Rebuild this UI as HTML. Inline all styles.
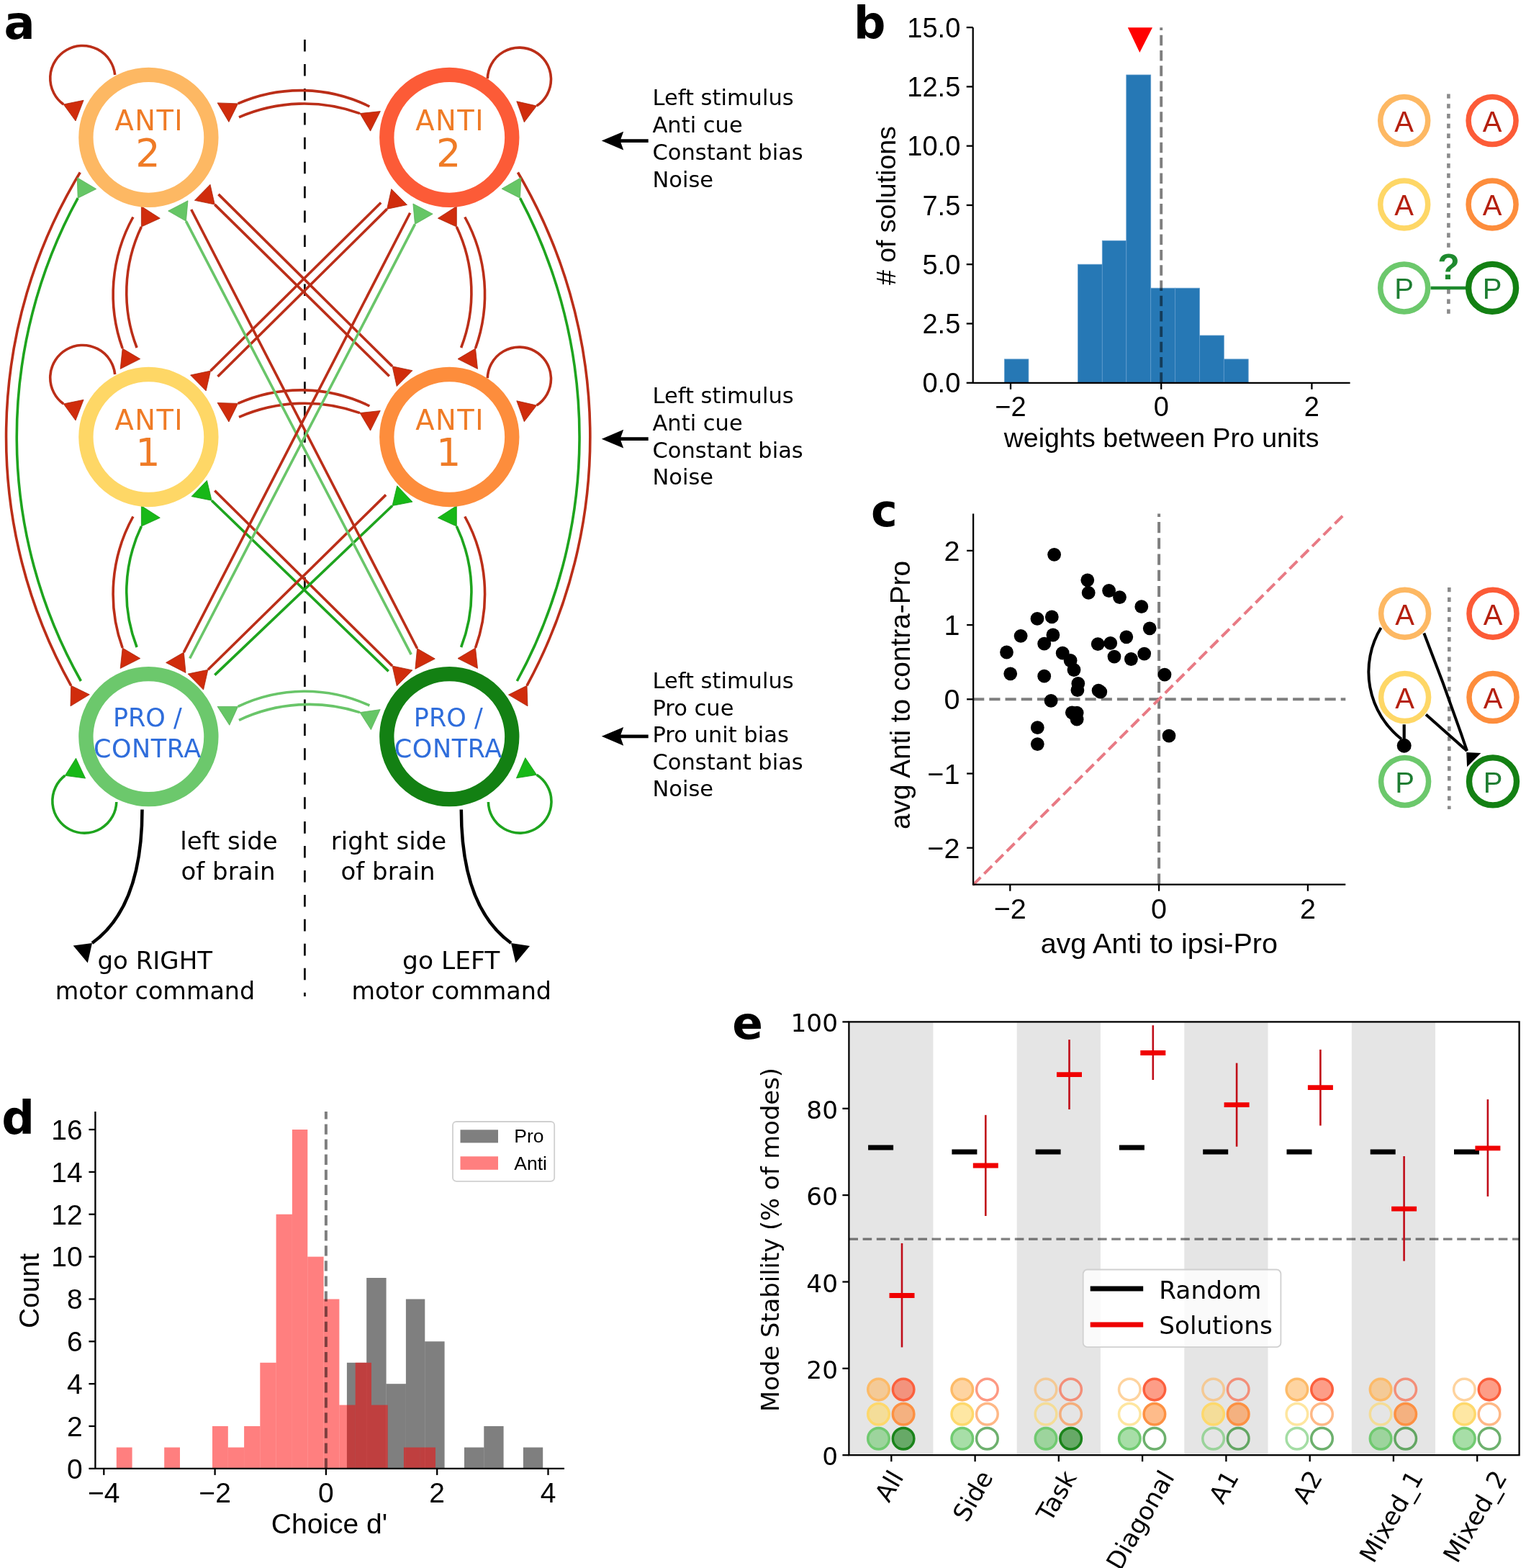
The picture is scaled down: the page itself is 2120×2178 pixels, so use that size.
<!DOCTYPE html>
<html><head><meta charset="utf-8"><title>Figure</title>
<style>html,body{margin:0;padding:0;background:#fff;} svg{display:block;}</style></head>
<body><svg xmlns="http://www.w3.org/2000/svg" width="2120" height="2178" viewBox="0 0 2120 2178">
<rect x="0" y="0" width="2120" height="2178" fill="#ffffff"/>
<line x1="423.4" y1="55" x2="423.4" y2="1384" stroke="#000" stroke-width="2.7" stroke-dasharray="16.6 17.34"/>
<path d="M513.4,148.0 A215.9,215.9 0 0 0 330.6,143.9" fill="none" stroke="#bb2e18" stroke-width="3.6"/>
<polygon points="330.6,143.9 302.1,142.9 317.9,169.4" fill="#d02c0c" stroke="#a8250b" stroke-width="0.8" stroke-linejoin="miter"/>
<path d="M332.0,162.8 A227.2,227.2 0 0 1 500.0,157.6" fill="none" stroke="#bb2e18" stroke-width="3.6"/>
<polygon points="500.0,157.6 514.6,182.1 528.4,154.6" fill="#d02c0c" stroke="#a8250b" stroke-width="0.8" stroke-linejoin="miter"/>
<path d="M513.4,564.0 A215.7,215.7 0 0 0 330.6,560.4" fill="none" stroke="#bb2e18" stroke-width="3.6"/>
<polygon points="330.6,560.4 302.1,559.5 317.9,586.0" fill="#d02c0c" stroke="#a8250b" stroke-width="0.8" stroke-linejoin="miter"/>
<path d="M332.0,579.3 A227.3,227.3 0 0 1 500.0,573.6" fill="none" stroke="#bb2e18" stroke-width="3.6"/>
<polygon points="500.0,573.6 514.6,598.1 528.3,570.5" fill="#d02c0c" stroke="#a8250b" stroke-width="0.8" stroke-linejoin="miter"/>
<path d="M513.4,980.0 A214.0,214.0 0 0 0 330.6,981.4" fill="none" stroke="#69c569" stroke-width="3.6"/>
<polygon points="330.6,981.4 302.1,981.4 318.8,1007.3" fill="#66c666" stroke="#55b055" stroke-width="0.8" stroke-linejoin="miter"/>
<path d="M332.0,1000.3 A228.0,228.0 0 0 1 500.0,989.6" fill="none" stroke="#69c569" stroke-width="3.6"/>
<polygon points="500.0,989.6 515.4,1013.6 528.2,985.6" fill="#66c666" stroke="#55b055" stroke-width="0.8" stroke-linejoin="miter"/>
<path d="M184.9,301.5 A221.9,221.9 0 0 0 170.2,484.0" fill="none" stroke="#bb2e18" stroke-width="3.6"/>
<polygon points="170.2,484.0 167.2,512.4 194.7,498.6" fill="#d02c0c" stroke="#a8250b" stroke-width="0.8" stroke-linejoin="miter"/>
<path d="M190.1,483.0 A212.0,212.0 0 0 1 196.4,315.1" fill="none" stroke="#bb2e18" stroke-width="3.6"/>
<polygon points="196.4,315.1 222.3,303.2 196.4,286.6" fill="#d02c0c" stroke="#a8250b" stroke-width="0.8" stroke-linejoin="miter"/>
<path d="M645.8,301.5 A221.9,221.9 0 0 1 660.5,484.0" fill="none" stroke="#bb2e18" stroke-width="3.6"/>
<polygon points="660.5,484.0 636.0,498.6 663.5,512.4" fill="#d02c0c" stroke="#a8250b" stroke-width="0.8" stroke-linejoin="miter"/>
<path d="M640.6,483.0 A212.0,212.0 0 0 0 634.3,315.1" fill="none" stroke="#bb2e18" stroke-width="3.6"/>
<polygon points="634.3,315.1 634.3,286.6 608.4,303.2" fill="#d02c0c" stroke="#a8250b" stroke-width="0.8" stroke-linejoin="miter"/>
<path d="M184.9,717.5 A221.9,221.9 0 0 0 170.2,900.0" fill="none" stroke="#bb2e18" stroke-width="3.6"/>
<polygon points="170.2,900.0 167.2,928.4 194.7,914.6" fill="#d02c0c" stroke="#a8250b" stroke-width="0.8" stroke-linejoin="miter"/>
<path d="M190.1,899.0 A212.0,212.0 0 0 1 196.4,731.1" fill="none" stroke="#1ea41e" stroke-width="3.6"/>
<polygon points="196.4,731.1 222.3,719.2 196.4,702.6" fill="#17b817" stroke="#129812" stroke-width="0.8" stroke-linejoin="miter"/>
<path d="M645.8,717.5 A221.9,221.9 0 0 1 660.5,900.0" fill="none" stroke="#bb2e18" stroke-width="3.6"/>
<polygon points="660.5,900.0 636.0,914.6 663.5,928.4" fill="#d02c0c" stroke="#a8250b" stroke-width="0.8" stroke-linejoin="miter"/>
<path d="M640.6,899.0 A212.0,212.0 0 0 0 634.3,731.1" fill="none" stroke="#1ea41e" stroke-width="3.6"/>
<polygon points="634.3,731.1 634.3,702.6 608.4,719.2" fill="#17b817" stroke="#129812" stroke-width="0.8" stroke-linejoin="miter"/>
<path d="M111.3,239.5 A707.6,707.6 0 0 0 98.7,952.3" fill="none" stroke="#bb2e18" stroke-width="3.6"/>
<polygon points="98.7,952.3 98.0,980.8 124.3,964.8" fill="#d02c0c" stroke="#a8250b" stroke-width="0.8" stroke-linejoin="miter"/>
<path d="M112.4,946.0 A689.9,689.9 0 0 1 108.2,275.2" fill="none" stroke="#1ea41e" stroke-width="3.6"/>
<polygon points="108.2,275.2 133.7,262.5 107.3,246.7" fill="#66c666" stroke="#55b055" stroke-width="0.8" stroke-linejoin="miter"/>
<path d="M719.4,239.5 A722.6,722.6 0 0 1 732.0,952.3" fill="none" stroke="#bb2e18" stroke-width="3.6"/>
<polygon points="732.0,952.3 706.5,965.1 733.0,980.8" fill="#d02c0c" stroke="#a8250b" stroke-width="0.8" stroke-linejoin="miter"/>
<path d="M718.3,946.0 A707.0,707.0 0 0 0 722.5,275.2" fill="none" stroke="#1ea41e" stroke-width="3.6"/>
<polygon points="722.5,275.2 723.8,246.7 697.1,262.2" fill="#66c666" stroke="#55b055" stroke-width="0.8" stroke-linejoin="miter"/>
<path d="M303.5,269.9 L545.0,508.8" fill="none" stroke="#bb2e18" stroke-width="3.6"/>
<polygon points="545.0,508.8 551.2,536.6 572.9,514.7" fill="#d02c0c" stroke="#a8250b" stroke-width="0.8" stroke-linejoin="miter"/>
<path d="M540.8,522.5 L298.3,284.1" fill="none" stroke="#bb2e18" stroke-width="3.6"/>
<polygon points="298.3,284.1 292.0,256.3 270.4,278.3" fill="#d02c0c" stroke="#a8250b" stroke-width="0.8" stroke-linejoin="miter"/>
<path d="M529.2,281.5 L292.5,515.1" fill="none" stroke="#bb2e18" stroke-width="3.6"/>
<polygon points="292.5,515.1 264.6,521.0 286.2,542.9" fill="#d02c0c" stroke="#a8250b" stroke-width="0.8" stroke-linejoin="miter"/>
<path d="M302.5,523.0 L537.6,290.4" fill="none" stroke="#bb2e18" stroke-width="3.6"/>
<polygon points="537.6,290.4 565.5,284.5 543.8,262.6" fill="#d02c0c" stroke="#a8250b" stroke-width="0.8" stroke-linejoin="miter"/>
<path d="M298.3,681.5 L545.0,925.0" fill="none" stroke="#bb2e18" stroke-width="3.6"/>
<polygon points="545.0,925.0 551.3,952.8 572.9,930.9" fill="#d02c0c" stroke="#a8250b" stroke-width="0.8" stroke-linejoin="miter"/>
<path d="M539.7,932.4 L294.1,695.2" fill="none" stroke="#1ea41e" stroke-width="3.6"/>
<polygon points="294.1,695.2 287.5,667.4 266.1,689.6" fill="#17b817" stroke="#129812" stroke-width="0.8" stroke-linejoin="miter"/>
<path d="M536.1,687.4 L288.9,930.3" fill="none" stroke="#bb2e18" stroke-width="3.6"/>
<polygon points="288.9,930.3 261.0,936.1 282.6,958.1" fill="#d02c0c" stroke="#a8250b" stroke-width="0.8" stroke-linejoin="miter"/>
<path d="M298.3,937.6 L545.0,702.5" fill="none" stroke="#1ea41e" stroke-width="3.6"/>
<polygon points="545.0,702.5 573.0,697.1 551.7,674.8" fill="#17b817" stroke="#129812" stroke-width="0.8" stroke-linejoin="miter"/>
<path d="M265.7,291.0 L579.6,900.8" fill="none" stroke="#bb2e18" stroke-width="3.6"/>
<polygon points="579.6,900.8 576.9,929.2 604.3,915.1" fill="#d02c0c" stroke="#a8250b" stroke-width="0.8" stroke-linejoin="miter"/>
<path d="M571.2,909.2 L258.4,307.2" fill="none" stroke="#69c569" stroke-width="3.6"/>
<polygon points="258.4,307.2 261.0,278.8 233.7,293.0" fill="#66c666" stroke="#55b055" stroke-width="0.8" stroke-linejoin="miter"/>
<path d="M569.7,295.7 L255.3,906.1" fill="none" stroke="#bb2e18" stroke-width="3.6"/>
<polygon points="255.3,906.1 230.6,920.4 258.0,934.5" fill="#d02c0c" stroke="#a8250b" stroke-width="0.8" stroke-linejoin="miter"/>
<path d="M263.7,914.5 L576.5,311.4" fill="none" stroke="#69c569" stroke-width="3.6"/>
<polygon points="576.5,311.4 601.2,297.2 573.9,283.0" fill="#66c666" stroke="#55b055" stroke-width="0.8" stroke-linejoin="miter"/>
<path d="M159.7,104.0 A45.1,45.1 0 1 0 88.2,145.0" fill="none" stroke="#bb2e18" stroke-width="3.6"/>
<polygon points="88.2,145.0 105.0,168.0 116.1,139.3" fill="#d02c0c" stroke="#a8250b" stroke-width="0.8"/>
<path d="M677.3,109.2 A44.1,44.1 0 1 1 745.6,147.1" fill="none" stroke="#bb2e18" stroke-width="3.6"/>
<polygon points="745.6,147.1 717.8,140.8 728.3,169.7" fill="#d02c0c" stroke="#a8250b" stroke-width="0.8"/>
<path d="M159.7,520.0 A45.1,45.1 0 1 0 88.2,561.0" fill="none" stroke="#bb2e18" stroke-width="3.6"/>
<polygon points="88.2,561.0 105.0,584.0 116.1,555.3" fill="#d02c0c" stroke="#a8250b" stroke-width="0.8"/>
<path d="M677.3,525.2 A44.1,44.1 0 1 1 745.6,563.1" fill="none" stroke="#bb2e18" stroke-width="3.6"/>
<polygon points="745.6,563.1 717.8,556.8 728.3,585.7" fill="#d02c0c" stroke="#a8250b" stroke-width="0.8"/>
<path d="M161.8,1114.0 A44.5,44.5 0 1 1 90.3,1077.3" fill="none" stroke="#1ea41e" stroke-width="3.6"/>
<polygon points="90.3,1077.3 118.6,1081.1 105.5,1053.2" fill="#17b817" stroke="#129812" stroke-width="0.8"/>
<path d="M678.4,1114.0 A43.8,43.8 0 1 0 745.6,1076.3" fill="none" stroke="#1ea41e" stroke-width="3.6"/>
<polygon points="745.6,1076.3 729.8,1052.6 717.4,1080.8" fill="#17b817" stroke="#129812" stroke-width="0.8"/>
<circle cx="206.4" cy="190.9" r="87" fill="#fff" stroke="#fdb863" stroke-width="20.3"/>
<circle cx="624.3" cy="190.9" r="87" fill="#fff" stroke="#fc5b37" stroke-width="20.3"/>
<circle cx="206.4" cy="607.0" r="87" fill="#fff" stroke="#fed766" stroke-width="20.3"/>
<circle cx="624.3" cy="607.0" r="87" fill="#fff" stroke="#fd8d3c" stroke-width="20.3"/>
<circle cx="206.4" cy="1023.2" r="87" fill="#fff" stroke="#6cc86c" stroke-width="20.3"/>
<circle cx="624.3" cy="1023.2" r="87" fill="#fff" stroke="#138013" stroke-width="20.3"/>
<text x="207.3" y="180.6" font-family="'DejaVu Sans', 'Liberation Sans', sans-serif" font-size="38.4" letter-spacing="1.5" fill="#ef7b26" text-anchor="middle">ANTI</text>
<text x="205.4" y="230.9" font-family="'DejaVu Sans', 'Liberation Sans', sans-serif" font-size="54" fill="#ef7b26" text-anchor="middle">2</text>
<text x="625.2" y="180.6" font-family="'DejaVu Sans', 'Liberation Sans', sans-serif" font-size="38.4" letter-spacing="1.5" fill="#ef7b26" text-anchor="middle">ANTI</text>
<text x="623.3" y="230.9" font-family="'DejaVu Sans', 'Liberation Sans', sans-serif" font-size="54" fill="#ef7b26" text-anchor="middle">2</text>
<text x="207.3" y="596.7" font-family="'DejaVu Sans', 'Liberation Sans', sans-serif" font-size="38.4" letter-spacing="1.5" fill="#ef7b26" text-anchor="middle">ANTI</text>
<text x="205.4" y="647.0" font-family="'DejaVu Sans', 'Liberation Sans', sans-serif" font-size="54" fill="#ef7b26" text-anchor="middle">1</text>
<text x="625.2" y="596.7" font-family="'DejaVu Sans', 'Liberation Sans', sans-serif" font-size="38.4" letter-spacing="1.5" fill="#ef7b26" text-anchor="middle">ANTI</text>
<text x="623.3" y="647.0" font-family="'DejaVu Sans', 'Liberation Sans', sans-serif" font-size="54" fill="#ef7b26" text-anchor="middle">1</text>
<text x="204.9" y="1009.0" font-family="'DejaVu Sans', 'Liberation Sans', sans-serif" font-size="35" fill="#2f6ddb" text-anchor="middle">PRO /</text>
<text x="204.9" y="1051.5" font-family="'DejaVu Sans', 'Liberation Sans', sans-serif" font-size="35" letter-spacing="0.6" fill="#2f6ddb" text-anchor="middle">CONTRA</text>
<text x="622.8" y="1009.0" font-family="'DejaVu Sans', 'Liberation Sans', sans-serif" font-size="35" fill="#2f6ddb" text-anchor="middle">PRO /</text>
<text x="622.8" y="1051.5" font-family="'DejaVu Sans', 'Liberation Sans', sans-serif" font-size="35" letter-spacing="0.6" fill="#2f6ddb" text-anchor="middle">CONTRA</text>
<path d="M197.5,1124.4 Q197.5,1260 128,1310" fill="none" stroke="#000" stroke-width="4.5"/>
<polygon points="128,1310 101.7,1313.4 121.8,1337.4" fill="#000"/>
<path d="M640.8,1124.4 Q640.8,1260 710,1310" fill="none" stroke="#000" stroke-width="4.5"/>
<polygon points="710,1310 736,1314 716.4,1337.4" fill="#000"/>
<text x="318.0" y="1179.8" font-family="'DejaVu Sans', 'Liberation Sans', sans-serif" font-size="34" fill="#000" text-anchor="middle" font-weight="normal" >left side</text>
<text x="317.0" y="1221.8" font-family="'DejaVu Sans', 'Liberation Sans', sans-serif" font-size="34" fill="#000" text-anchor="middle" font-weight="normal" >of brain</text>
<text x="540.0" y="1179.8" font-family="'DejaVu Sans', 'Liberation Sans', sans-serif" font-size="34" fill="#000" text-anchor="middle" font-weight="normal" >right side</text>
<text x="539.0" y="1221.8" font-family="'DejaVu Sans', 'Liberation Sans', sans-serif" font-size="34" fill="#000" text-anchor="middle" font-weight="normal" >of brain</text>
<text x="215.3" y="1345.8" font-family="'DejaVu Sans', 'Liberation Sans', sans-serif" font-size="34" fill="#000" text-anchor="middle" font-weight="normal" >go RIGHT</text>
<text x="215.5" y="1387.8" font-family="'DejaVu Sans', 'Liberation Sans', sans-serif" font-size="33.4" fill="#000" text-anchor="middle" font-weight="normal" >motor command</text>
<text x="626.7" y="1345.8" font-family="'DejaVu Sans', 'Liberation Sans', sans-serif" font-size="34.5" fill="#000" text-anchor="middle" font-weight="normal" >go LEFT</text>
<text x="627.3" y="1387.8" font-family="'DejaVu Sans', 'Liberation Sans', sans-serif" font-size="33.4" fill="#000" text-anchor="middle" font-weight="normal" >motor command</text>
<line x1="900.7" y1="195.6" x2="858" y2="195.6" stroke="#000" stroke-width="4.8"/>
<polygon points="835.8,195.6 866.2,182.7 861.6,195.6 866.2,208.5" fill="#000"/>
<text x="906.5" y="146.3" font-family="'DejaVu Sans', 'Liberation Sans', sans-serif" font-size="30.5" fill="#000" text-anchor="start" font-weight="normal" >Left stimulus</text>
<text x="906.5" y="184.2" font-family="'DejaVu Sans', 'Liberation Sans', sans-serif" font-size="30.5" fill="#000" text-anchor="start" font-weight="normal" >Anti cue</text>
<text x="906.5" y="221.7" font-family="'DejaVu Sans', 'Liberation Sans', sans-serif" font-size="30.5" fill="#000" text-anchor="start" font-weight="normal" >Constant bias</text>
<text x="906.5" y="259.6" font-family="'DejaVu Sans', 'Liberation Sans', sans-serif" font-size="30.5" fill="#000" text-anchor="start" font-weight="normal" >Noise</text>
<line x1="900.7" y1="609.7" x2="858" y2="609.7" stroke="#000" stroke-width="4.8"/>
<polygon points="835.8,609.7 866.2,596.8 861.6,609.7 866.2,622.6" fill="#000"/>
<text x="906.5" y="560.3" font-family="'DejaVu Sans', 'Liberation Sans', sans-serif" font-size="30.5" fill="#000" text-anchor="start" font-weight="normal" >Left stimulus</text>
<text x="906.5" y="598.0" font-family="'DejaVu Sans', 'Liberation Sans', sans-serif" font-size="30.5" fill="#000" text-anchor="start" font-weight="normal" >Anti cue</text>
<text x="906.5" y="635.7" font-family="'DejaVu Sans', 'Liberation Sans', sans-serif" font-size="30.5" fill="#000" text-anchor="start" font-weight="normal" >Constant bias</text>
<text x="906.5" y="673.2" font-family="'DejaVu Sans', 'Liberation Sans', sans-serif" font-size="30.5" fill="#000" text-anchor="start" font-weight="normal" >Noise</text>
<line x1="900.7" y1="1022.8" x2="858" y2="1022.8" stroke="#000" stroke-width="4.8"/>
<polygon points="835.8,1022.8 866.2,1009.9 861.6,1022.8 866.2,1035.7" fill="#000"/>
<text x="906.5" y="956.1" font-family="'DejaVu Sans', 'Liberation Sans', sans-serif" font-size="30.5" fill="#000" text-anchor="start" font-weight="normal" >Left stimulus</text>
<text x="906.5" y="993.8" font-family="'DejaVu Sans', 'Liberation Sans', sans-serif" font-size="30.5" fill="#000" text-anchor="start" font-weight="normal" >Pro cue</text>
<text x="906.5" y="1031.1" font-family="'DejaVu Sans', 'Liberation Sans', sans-serif" font-size="30.5" fill="#000" text-anchor="start" font-weight="normal" >Pro unit bias</text>
<text x="906.5" y="1068.6" font-family="'DejaVu Sans', 'Liberation Sans', sans-serif" font-size="30.5" fill="#000" text-anchor="start" font-weight="normal" >Constant bias</text>
<text x="906.5" y="1106.3" font-family="'DejaVu Sans', 'Liberation Sans', sans-serif" font-size="30.5" fill="#000" text-anchor="start" font-weight="normal" >Noise</text>
<text x="5.5" y="53.6" font-family="'DejaVu Sans', 'Liberation Sans', sans-serif" font-size="64" fill="#000" text-anchor="start" font-weight="bold" >a</text>
<rect x="1395.4" y="498.9" width="33.5" height="32.9" fill="#2678b5" stroke="#5f9bcc" stroke-width="0.8"/>
<rect x="1497.4" y="367.2" width="33.9" height="164.5" fill="#2678b5" stroke="#5f9bcc" stroke-width="0.8"/>
<rect x="1531.3" y="334.3" width="33.5" height="197.5" fill="#2678b5" stroke="#5f9bcc" stroke-width="0.8"/>
<rect x="1564.8" y="104.0" width="33.9" height="427.8" fill="#2678b5" stroke="#5f9bcc" stroke-width="0.8"/>
<rect x="1598.7" y="400.2" width="33.8" height="131.6" fill="#2678b5" stroke="#5f9bcc" stroke-width="0.8"/>
<rect x="1632.5" y="400.2" width="33.9" height="131.6" fill="#2678b5" stroke="#5f9bcc" stroke-width="0.8"/>
<rect x="1666.4" y="466.0" width="33.9" height="65.8" fill="#2678b5" stroke="#5f9bcc" stroke-width="0.8"/>
<rect x="1700.3" y="498.9" width="33.9" height="32.9" fill="#2678b5" stroke="#5f9bcc" stroke-width="0.8"/>
<line x1="1613.2" y1="531.8" x2="1613.2" y2="38.2" stroke="#000" stroke-opacity="0.5" stroke-width="3.9" stroke-dasharray="14.5 6.8"/>
<polygon points="1566.8,38.2 1601,38.2 1583.3,72.9" fill="#ff0000"/>
<path d="M1351.7,38.2 L1351.7,531.8 L1875.6,531.8" fill="none" stroke="#000" stroke-width="2.3"/>
<line x1="1342.7" y1="531.8" x2="1351.7" y2="531.8" stroke="#000" stroke-width="2.3"/>
<text x="1334.3" y="545.3" font-family="'Liberation Sans', 'DejaVu Sans', sans-serif" font-size="38" fill="#000" text-anchor="end" font-weight="normal" >0.0</text>
<line x1="1342.7" y1="449.5" x2="1351.7" y2="449.5" stroke="#000" stroke-width="2.3"/>
<text x="1334.3" y="463.0" font-family="'Liberation Sans', 'DejaVu Sans', sans-serif" font-size="38" fill="#000" text-anchor="end" font-weight="normal" >2.5</text>
<line x1="1342.7" y1="367.2" x2="1351.7" y2="367.2" stroke="#000" stroke-width="2.3"/>
<text x="1334.3" y="380.8" font-family="'Liberation Sans', 'DejaVu Sans', sans-serif" font-size="38" fill="#000" text-anchor="end" font-weight="normal" >5.0</text>
<line x1="1342.7" y1="285.0" x2="1351.7" y2="285.0" stroke="#000" stroke-width="2.3"/>
<text x="1334.3" y="298.5" font-family="'Liberation Sans', 'DejaVu Sans', sans-serif" font-size="38" fill="#000" text-anchor="end" font-weight="normal" >7.5</text>
<line x1="1342.7" y1="202.7" x2="1351.7" y2="202.7" stroke="#000" stroke-width="2.3"/>
<text x="1334.3" y="216.2" font-family="'Liberation Sans', 'DejaVu Sans', sans-serif" font-size="38" fill="#000" text-anchor="end" font-weight="normal" >10.0</text>
<line x1="1342.7" y1="120.4" x2="1351.7" y2="120.4" stroke="#000" stroke-width="2.3"/>
<text x="1334.3" y="133.9" font-family="'Liberation Sans', 'DejaVu Sans', sans-serif" font-size="38" fill="#000" text-anchor="end" font-weight="normal" >12.5</text>
<line x1="1342.7" y1="38.1" x2="1351.7" y2="38.1" stroke="#000" stroke-width="2.3"/>
<text x="1334.3" y="51.6" font-family="'Liberation Sans', 'DejaVu Sans', sans-serif" font-size="38" fill="#000" text-anchor="end" font-weight="normal" >15.0</text>
<line x1="1404.0" y1="531.8" x2="1404.0" y2="540.8" stroke="#000" stroke-width="2.3"/>
<text x="1404.0" y="577.7" font-family="'Liberation Sans', 'DejaVu Sans', sans-serif" font-size="38" fill="#000" text-anchor="middle" font-weight="normal" >&#8722;2</text>
<line x1="1613.2" y1="531.8" x2="1613.2" y2="540.8" stroke="#000" stroke-width="2.3"/>
<text x="1613.2" y="577.7" font-family="'Liberation Sans', 'DejaVu Sans', sans-serif" font-size="38" fill="#000" text-anchor="middle" font-weight="normal" >0</text>
<line x1="1822.4" y1="531.8" x2="1822.4" y2="540.8" stroke="#000" stroke-width="2.3"/>
<text x="1822.4" y="577.7" font-family="'Liberation Sans', 'DejaVu Sans', sans-serif" font-size="38" fill="#000" text-anchor="middle" font-weight="normal" >2</text>
<text x="1613.6" y="621.3" font-family="'Liberation Sans', 'DejaVu Sans', sans-serif" font-size="37.5" fill="#000" text-anchor="middle" font-weight="normal" >weights between Pro units</text>
<text x="1244.0" y="285.6" font-family="'Liberation Sans', 'DejaVu Sans', sans-serif" font-size="37.5" fill="#000" text-anchor="middle" font-weight="normal" transform="rotate(-90 1244 285.6)"># of solutions</text>
<text x="1186" y="53.2" font-family="'DejaVu Sans', 'Liberation Sans', sans-serif" font-size="62" font-weight="bold">b</text>
<line x1="2012.4" y1="130.4" x2="2012.4" y2="346.6" stroke="#8a8a8a" stroke-width="4.6" stroke-dasharray="6.4 7.4"/>
<line x1="2012.4" y1="401.8" x2="2012.4" y2="438.6" stroke="#8a8a8a" stroke-width="4.6" stroke-dasharray="6.4 7.4"/>
<line x1="1987.5" y1="400" x2="2037" y2="400" stroke="#1e8a2e" stroke-width="4.6"/>
<circle cx="1950.7" cy="167.6" r="33" fill="#fff" stroke="#fdb863" stroke-width="7.5"/>
<text x="1950.7" y="183.0" font-family="'Liberation Sans', 'DejaVu Sans', sans-serif" font-size="40" fill="#b5200f" text-anchor="middle">A</text>
<circle cx="2073.1" cy="167.6" r="33" fill="#fff" stroke="#fc5b37" stroke-width="7.5"/>
<text x="2073.1" y="183.0" font-family="'Liberation Sans', 'DejaVu Sans', sans-serif" font-size="40" fill="#b5200f" text-anchor="middle">A</text>
<circle cx="1950.7" cy="284.0" r="33" fill="#fff" stroke="#fed766" stroke-width="7.5"/>
<text x="1950.7" y="299.4" font-family="'Liberation Sans', 'DejaVu Sans', sans-serif" font-size="40" fill="#b5200f" text-anchor="middle">A</text>
<circle cx="2073.1" cy="284.0" r="33" fill="#fff" stroke="#fd8d3c" stroke-width="7.5"/>
<text x="2073.1" y="299.4" font-family="'Liberation Sans', 'DejaVu Sans', sans-serif" font-size="40" fill="#b5200f" text-anchor="middle">A</text>
<circle cx="1950.7" cy="399.9" r="33" fill="#fff" stroke="#6cc86c" stroke-width="7.5"/>
<text x="1950.7" y="415.3" font-family="'Liberation Sans', 'DejaVu Sans', sans-serif" font-size="40" fill="#1e7d32" text-anchor="middle">P</text>
<circle cx="2073.1" cy="399.9" r="33" fill="#fff" stroke="#138013" stroke-width="8.4"/>
<text x="2073.1" y="415.3" font-family="'Liberation Sans', 'DejaVu Sans', sans-serif" font-size="40" fill="#1e7d32" text-anchor="middle">P</text>
<text x="2012.6" y="388" font-family="'Liberation Sans', 'DejaVu Sans', sans-serif" font-size="50" font-weight="bold" fill="#1e8a2e" text-anchor="middle">?</text>
<line x1="1610.1" y1="1228.7" x2="1610.1" y2="713.5" stroke="#000" stroke-opacity="0.5" stroke-width="4" stroke-dasharray="15.2 7.0"/>
<line x1="1352.1" y1="971.3" x2="1869.3" y2="971.3" stroke="#000" stroke-opacity="0.5" stroke-width="4" stroke-dasharray="15.2 7.0"/>
<line x1="1351.6" y1="1229.3" x2="1868.6" y2="713.3" stroke="#e87a84" stroke-width="4" stroke-dasharray="15.2 7.0"/>
<circle cx="1464.6" cy="770.3" r="9.4" fill="#000"/>
<circle cx="1510.8" cy="805.8" r="9.4" fill="#000"/>
<circle cx="1512.2" cy="823.4" r="9.4" fill="#000"/>
<circle cx="1540.6" cy="820.5" r="9.4" fill="#000"/>
<circle cx="1555.5" cy="829.6" r="9.4" fill="#000"/>
<circle cx="1585.8" cy="842.7" r="9.4" fill="#000"/>
<circle cx="1441.0" cy="859.4" r="9.4" fill="#000"/>
<circle cx="1461.3" cy="856.9" r="9.4" fill="#000"/>
<circle cx="1597.2" cy="872.8" r="9.4" fill="#000"/>
<circle cx="1418.1" cy="883.3" r="9.4" fill="#000"/>
<circle cx="1462.9" cy="882.0" r="9.4" fill="#000"/>
<circle cx="1564.8" cy="884.8" r="9.4" fill="#000"/>
<circle cx="1450.7" cy="894.2" r="9.4" fill="#000"/>
<circle cx="1525.2" cy="894.7" r="9.4" fill="#000"/>
<circle cx="1542.7" cy="893.4" r="9.4" fill="#000"/>
<circle cx="1398.5" cy="906.0" r="9.4" fill="#000"/>
<circle cx="1476.2" cy="907.2" r="9.4" fill="#000"/>
<circle cx="1487.1" cy="917.5" r="9.4" fill="#000"/>
<circle cx="1589.7" cy="908.1" r="9.4" fill="#000"/>
<circle cx="1548.0" cy="912.1" r="9.4" fill="#000"/>
<circle cx="1571.4" cy="915.5" r="9.4" fill="#000"/>
<circle cx="1492.0" cy="930.5" r="9.4" fill="#000"/>
<circle cx="1403.7" cy="935.8" r="9.4" fill="#000"/>
<circle cx="1450.7" cy="939.2" r="9.4" fill="#000"/>
<circle cx="1618.0" cy="937.1" r="9.4" fill="#000"/>
<circle cx="1497.8" cy="949.4" r="9.4" fill="#000"/>
<circle cx="1496.9" cy="958.7" r="9.4" fill="#000"/>
<circle cx="1526.1" cy="959.2" r="9.4" fill="#000"/>
<circle cx="1528.8" cy="961.1" r="9.4" fill="#000"/>
<circle cx="1460.1" cy="973.4" r="9.4" fill="#000"/>
<circle cx="1489.3" cy="989.8" r="9.4" fill="#000"/>
<circle cx="1496.1" cy="990.2" r="9.4" fill="#000"/>
<circle cx="1496.1" cy="999.2" r="9.4" fill="#000"/>
<circle cx="1441.3" cy="1010.7" r="9.4" fill="#000"/>
<circle cx="1441.3" cy="1033.6" r="9.4" fill="#000"/>
<circle cx="1624.0" cy="1022.1" r="9.4" fill="#000"/>
<path d="M1352.1,713.5 L1352.1,1228.7 L1869.3,1228.7" fill="none" stroke="#000" stroke-width="2.3"/>
<line x1="1343.1" y1="1177.7" x2="1352.1" y2="1177.7" stroke="#000" stroke-width="2.3"/>
<text x="1333.4" y="1191.7" font-family="'Liberation Sans', 'DejaVu Sans', sans-serif" font-size="39.5" fill="#000" text-anchor="end" font-weight="normal" >&#8722;2</text>
<line x1="1343.1" y1="1074.5" x2="1352.1" y2="1074.5" stroke="#000" stroke-width="2.3"/>
<text x="1333.4" y="1088.5" font-family="'Liberation Sans', 'DejaVu Sans', sans-serif" font-size="39.5" fill="#000" text-anchor="end" font-weight="normal" >&#8722;1</text>
<line x1="1343.1" y1="971.3" x2="1352.1" y2="971.3" stroke="#000" stroke-width="2.3"/>
<text x="1333.4" y="985.3" font-family="'Liberation Sans', 'DejaVu Sans', sans-serif" font-size="39.5" fill="#000" text-anchor="end" font-weight="normal" >0</text>
<line x1="1343.1" y1="868.1" x2="1352.1" y2="868.1" stroke="#000" stroke-width="2.3"/>
<text x="1333.4" y="882.1" font-family="'Liberation Sans', 'DejaVu Sans', sans-serif" font-size="39.5" fill="#000" text-anchor="end" font-weight="normal" >1</text>
<line x1="1343.1" y1="764.9" x2="1352.1" y2="764.9" stroke="#000" stroke-width="2.3"/>
<text x="1333.4" y="778.9" font-family="'Liberation Sans', 'DejaVu Sans', sans-serif" font-size="39.5" fill="#000" text-anchor="end" font-weight="normal" >2</text>
<line x1="1403.3" y1="1228.7" x2="1403.3" y2="1237.7" stroke="#000" stroke-width="2.3"/>
<text x="1403.3" y="1275.5" font-family="'Liberation Sans', 'DejaVu Sans', sans-serif" font-size="39.5" fill="#000" text-anchor="middle" font-weight="normal" >&#8722;2</text>
<line x1="1610.1" y1="1228.7" x2="1610.1" y2="1237.7" stroke="#000" stroke-width="2.3"/>
<text x="1610.1" y="1275.5" font-family="'Liberation Sans', 'DejaVu Sans', sans-serif" font-size="39.5" fill="#000" text-anchor="middle" font-weight="normal" >0</text>
<line x1="1816.9" y1="1228.7" x2="1816.9" y2="1237.7" stroke="#000" stroke-width="2.3"/>
<text x="1816.9" y="1275.5" font-family="'Liberation Sans', 'DejaVu Sans', sans-serif" font-size="39.5" fill="#000" text-anchor="middle" font-weight="normal" >2</text>
<text x="1610.3" y="1323.7" font-family="'Liberation Sans', 'DejaVu Sans', sans-serif" font-size="39.5" fill="#000" text-anchor="middle" font-weight="normal" >avg Anti to ipsi-Pro</text>
<text x="1263.5" y="965.5" font-family="'Liberation Sans', 'DejaVu Sans', sans-serif" font-size="38.8" fill="#000" text-anchor="middle" font-weight="normal" transform="rotate(-90 1263.5 965.5)">avg Anti to contra-Pro</text>
<text x="1210" y="731.2" font-family="'DejaVu Sans', 'Liberation Sans', sans-serif" font-size="62" font-weight="bold">c</text>
<line x1="2013.3" y1="815.9" x2="2013.3" y2="1124" stroke="#8a8a8a" stroke-width="4.6" stroke-dasharray="6.4 7.4"/>
<circle cx="1951.6" cy="852.2" r="33" fill="#fff" stroke="#fdb863" stroke-width="7.5"/>
<text x="1951.6" y="867.6" font-family="'Liberation Sans', 'DejaVu Sans', sans-serif" font-size="40" fill="#b5200f" text-anchor="middle">A</text>
<circle cx="2074.0" cy="852.2" r="33" fill="#fff" stroke="#fc5b37" stroke-width="7.5"/>
<text x="2074.0" y="867.6" font-family="'Liberation Sans', 'DejaVu Sans', sans-serif" font-size="40" fill="#b5200f" text-anchor="middle">A</text>
<circle cx="1951.6" cy="968.6" r="33" fill="#fff" stroke="#fed766" stroke-width="7.5"/>
<text x="1951.6" y="984.0" font-family="'Liberation Sans', 'DejaVu Sans', sans-serif" font-size="40" fill="#b5200f" text-anchor="middle">A</text>
<circle cx="2074.0" cy="968.6" r="33" fill="#fff" stroke="#fd8d3c" stroke-width="7.5"/>
<text x="2074.0" y="984.0" font-family="'Liberation Sans', 'DejaVu Sans', sans-serif" font-size="40" fill="#b5200f" text-anchor="middle">A</text>
<circle cx="1951.6" cy="1085.4" r="33" fill="#fff" stroke="#6cc86c" stroke-width="7.5"/>
<text x="1951.6" y="1100.8" font-family="'Liberation Sans', 'DejaVu Sans', sans-serif" font-size="40" fill="#1e7d32" text-anchor="middle">P</text>
<circle cx="2074.0" cy="1085.4" r="33" fill="#fff" stroke="#138013" stroke-width="8.4"/>
<text x="2074.0" y="1100.8" font-family="'Liberation Sans', 'DejaVu Sans', sans-serif" font-size="40" fill="#1e7d32" text-anchor="middle">P</text>
<path d="M1918.5,872.0 A118.2,118.2 0 0 0 1947.0,1026.6" fill="none" stroke="#000" stroke-width="4"/>
<line x1="1950.7" y1="1006.3" x2="1950.7" y2="1030" stroke="#000" stroke-width="4.2"/>
<circle cx="1950.7" cy="1035.8" r="10" fill="#000"/>
<path d="M1978.3,879.4 Q2010,960 2038,1043" fill="none" stroke="#000" stroke-width="4"/>
<line x1="1981" y1="992.5" x2="2038" y2="1043" stroke="#000" stroke-width="4"/>
<polygon points="2037.2,1045 2057.4,1045.9 2038.1,1065.2" fill="#000"/>
<rect x="481.9" y="1892.8" width="27.3" height="147.2" fill="#000" fill-opacity="0.5"/>
<rect x="509.2" y="1775.0" width="27.4" height="264.9" fill="#000" fill-opacity="0.5"/>
<rect x="536.6" y="1922.2" width="27.3" height="117.7" fill="#000" fill-opacity="0.5"/>
<rect x="563.9" y="1804.5" width="26.4" height="235.4" fill="#000" fill-opacity="0.5"/>
<rect x="590.3" y="1863.3" width="27.3" height="176.6" fill="#000" fill-opacity="0.5"/>
<rect x="645.0" y="2010.5" width="27.3" height="29.4" fill="#000" fill-opacity="0.5"/>
<rect x="672.3" y="1981.0" width="27.3" height="58.9" fill="#000" fill-opacity="0.5"/>
<rect x="726.9" y="2010.5" width="27.3" height="29.4" fill="#000" fill-opacity="0.5"/>
<rect x="161.8" y="2010.5" width="21.8" height="29.4" fill="#ff0000" fill-opacity="0.5"/>
<rect x="228.2" y="2010.5" width="21.8" height="29.4" fill="#ff0000" fill-opacity="0.5"/>
<rect x="295.0" y="1981.0" width="21.8" height="58.9" fill="#ff0000" fill-opacity="0.5"/>
<rect x="316.8" y="2010.5" width="22.3" height="29.4" fill="#ff0000" fill-opacity="0.5"/>
<rect x="339.1" y="1981.0" width="22.2" height="58.9" fill="#ff0000" fill-opacity="0.5"/>
<rect x="361.3" y="1892.8" width="22.3" height="147.2" fill="#ff0000" fill-opacity="0.5"/>
<rect x="383.6" y="1686.7" width="22.3" height="353.2" fill="#ff0000" fill-opacity="0.5"/>
<rect x="405.9" y="1569.0" width="21.4" height="470.9" fill="#ff0000" fill-opacity="0.5"/>
<rect x="427.3" y="1745.6" width="22.3" height="294.3" fill="#ff0000" fill-opacity="0.5"/>
<rect x="449.6" y="1804.5" width="21.8" height="235.4" fill="#ff0000" fill-opacity="0.5"/>
<rect x="471.4" y="1951.6" width="22.3" height="88.3" fill="#ff0000" fill-opacity="0.5"/>
<rect x="493.7" y="1892.8" width="22.3" height="147.2" fill="#ff0000" fill-opacity="0.5"/>
<rect x="516.0" y="1951.6" width="22.7" height="88.3" fill="#ff0000" fill-opacity="0.5"/>
<rect x="560.9" y="2010.5" width="22.3" height="29.4" fill="#ff0000" fill-opacity="0.5"/>
<rect x="583.2" y="2010.5" width="21.8" height="29.4" fill="#ff0000" fill-opacity="0.5"/>
<line x1="452.9" y1="2039.9" x2="452.9" y2="1544.1" stroke="#000" stroke-opacity="0.5" stroke-width="4" stroke-dasharray="14.3 6.8"/>
<path d="M132.4,1544.1 L132.4,2039.9 L784.0,2039.9" fill="none" stroke="#000" stroke-width="2.3"/>
<line x1="123.4" y1="2039.9" x2="132.4" y2="2039.9" stroke="#000" stroke-width="2.3"/>
<text x="114.6" y="2053.7" font-family="'Liberation Sans', 'DejaVu Sans', sans-serif" font-size="39" fill="#000" text-anchor="end" font-weight="normal" >0</text>
<line x1="123.4" y1="1981.0" x2="132.4" y2="1981.0" stroke="#000" stroke-width="2.3"/>
<text x="114.6" y="1994.8" font-family="'Liberation Sans', 'DejaVu Sans', sans-serif" font-size="39" fill="#000" text-anchor="end" font-weight="normal" >2</text>
<line x1="123.4" y1="1922.2" x2="132.4" y2="1922.2" stroke="#000" stroke-width="2.3"/>
<text x="114.6" y="1936.0" font-family="'Liberation Sans', 'DejaVu Sans', sans-serif" font-size="39" fill="#000" text-anchor="end" font-weight="normal" >4</text>
<line x1="123.4" y1="1863.3" x2="132.4" y2="1863.3" stroke="#000" stroke-width="2.3"/>
<text x="114.6" y="1877.1" font-family="'Liberation Sans', 'DejaVu Sans', sans-serif" font-size="39" fill="#000" text-anchor="end" font-weight="normal" >6</text>
<line x1="123.4" y1="1804.5" x2="132.4" y2="1804.5" stroke="#000" stroke-width="2.3"/>
<text x="114.6" y="1818.3" font-family="'Liberation Sans', 'DejaVu Sans', sans-serif" font-size="39" fill="#000" text-anchor="end" font-weight="normal" >8</text>
<line x1="123.4" y1="1745.6" x2="132.4" y2="1745.6" stroke="#000" stroke-width="2.3"/>
<text x="114.6" y="1759.4" font-family="'Liberation Sans', 'DejaVu Sans', sans-serif" font-size="39" fill="#000" text-anchor="end" font-weight="normal" >10</text>
<line x1="123.4" y1="1686.7" x2="132.4" y2="1686.7" stroke="#000" stroke-width="2.3"/>
<text x="114.6" y="1700.5" font-family="'Liberation Sans', 'DejaVu Sans', sans-serif" font-size="39" fill="#000" text-anchor="end" font-weight="normal" >12</text>
<line x1="123.4" y1="1627.9" x2="132.4" y2="1627.9" stroke="#000" stroke-width="2.3"/>
<text x="114.6" y="1641.7" font-family="'Liberation Sans', 'DejaVu Sans', sans-serif" font-size="39" fill="#000" text-anchor="end" font-weight="normal" >14</text>
<line x1="123.4" y1="1569.0" x2="132.4" y2="1569.0" stroke="#000" stroke-width="2.3"/>
<text x="114.6" y="1582.8" font-family="'Liberation Sans', 'DejaVu Sans', sans-serif" font-size="39" fill="#000" text-anchor="end" font-weight="normal" >16</text>
<line x1="144.3" y1="2039.9" x2="144.3" y2="2048.9" stroke="#000" stroke-width="2.3"/>
<text x="144.3" y="2086.5" font-family="'Liberation Sans', 'DejaVu Sans', sans-serif" font-size="39" fill="#000" text-anchor="middle" font-weight="normal" >&#8722;4</text>
<line x1="298.6" y1="2039.9" x2="298.6" y2="2048.9" stroke="#000" stroke-width="2.3"/>
<text x="298.6" y="2086.5" font-family="'Liberation Sans', 'DejaVu Sans', sans-serif" font-size="39" fill="#000" text-anchor="middle" font-weight="normal" >&#8722;2</text>
<line x1="452.9" y1="2039.9" x2="452.9" y2="2048.9" stroke="#000" stroke-width="2.3"/>
<text x="452.9" y="2086.5" font-family="'Liberation Sans', 'DejaVu Sans', sans-serif" font-size="39" fill="#000" text-anchor="middle" font-weight="normal" >0</text>
<line x1="607.2" y1="2039.9" x2="607.2" y2="2048.9" stroke="#000" stroke-width="2.3"/>
<text x="607.2" y="2086.5" font-family="'Liberation Sans', 'DejaVu Sans', sans-serif" font-size="39" fill="#000" text-anchor="middle" font-weight="normal" >2</text>
<line x1="761.5" y1="2039.9" x2="761.5" y2="2048.9" stroke="#000" stroke-width="2.3"/>
<text x="761.5" y="2086.5" font-family="'Liberation Sans', 'DejaVu Sans', sans-serif" font-size="39" fill="#000" text-anchor="middle" font-weight="normal" >4</text>
<text x="457.5" y="2130.3" font-family="'Liberation Sans', 'DejaVu Sans', sans-serif" font-size="39" fill="#000" text-anchor="middle" font-weight="normal" >Choice d&#39;</text>
<text x="54.0" y="1793.0" font-family="'Liberation Sans', 'DejaVu Sans', sans-serif" font-size="39" fill="#000" text-anchor="middle" font-weight="normal" transform="rotate(-90 54 1793)">Count</text>
<text x="2.3" y="1575.4" font-family="'DejaVu Sans', 'Liberation Sans', sans-serif" font-size="64" font-weight="bold">d</text>
<rect x="629" y="1558" width="141.2" height="82.8" rx="5" fill="#fff" fill-opacity="0.8" stroke="#d0d0d0" stroke-width="1.8"/>
<rect x="639.5" y="1569.3" width="52.5" height="18.1" fill="#000" fill-opacity="0.5"/>
<rect x="639.5" y="1606.3" width="52.5" height="18.5" fill="#ff0000" fill-opacity="0.5"/>
<text x="714.3" y="1587.4" font-family="'Liberation Sans', 'DejaVu Sans', sans-serif" font-size="26.5" fill="#000" text-anchor="start" font-weight="normal" >Pro</text>
<text x="714.3" y="1624.8" font-family="'Liberation Sans', 'DejaVu Sans', sans-serif" font-size="26.5" fill="#000" text-anchor="start" font-weight="normal" >Anti</text>
<rect x="1180.2" y="1419.4" width="116.2" height="601.8" fill="#e5e5e5"/>
<rect x="1412.7" y="1419.4" width="116.2" height="601.8" fill="#e5e5e5"/>
<rect x="1645.3" y="1419.4" width="116.2" height="601.8" fill="#e5e5e5"/>
<rect x="1877.8" y="1419.4" width="116.2" height="601.8" fill="#e5e5e5"/>
<line x1="1179.4" y1="1721.2" x2="2110.6" y2="1721.2" stroke="#000" stroke-opacity="0.5" stroke-width="3.3" stroke-dasharray="12.6 6.6"/>
<line x1="1206.1" y1="1593.9" x2="1241.1" y2="1593.9" stroke="#000" stroke-width="7"/>
<line x1="1253.0" y1="1726.9" x2="1253.0" y2="1871.4" stroke="#c00c18" stroke-width="2.6"/>
<line x1="1235.5" y1="1799.5" x2="1270.5" y2="1799.5" stroke="#f00000" stroke-width="6.8"/>
<line x1="1322.4" y1="1599.9" x2="1357.4" y2="1599.9" stroke="#000" stroke-width="7"/>
<line x1="1369.3" y1="1548.8" x2="1369.3" y2="1689.0" stroke="#c00c18" stroke-width="2.6"/>
<line x1="1351.8" y1="1619.0" x2="1386.8" y2="1619.0" stroke="#f00000" stroke-width="6.8"/>
<line x1="1438.6" y1="1599.9" x2="1473.6" y2="1599.9" stroke="#000" stroke-width="7"/>
<line x1="1485.5" y1="1444.1" x2="1485.5" y2="1541.0" stroke="#c00c18" stroke-width="2.6"/>
<line x1="1468.0" y1="1492.6" x2="1503.0" y2="1492.6" stroke="#f00000" stroke-width="6.8"/>
<line x1="1554.9" y1="1593.9" x2="1589.9" y2="1593.9" stroke="#000" stroke-width="7"/>
<line x1="1601.8" y1="1424.2" x2="1601.8" y2="1500.0" stroke="#c00c18" stroke-width="2.6"/>
<line x1="1584.3" y1="1462.5" x2="1619.3" y2="1462.5" stroke="#f00000" stroke-width="6.8"/>
<line x1="1671.2" y1="1599.9" x2="1706.2" y2="1599.9" stroke="#000" stroke-width="7"/>
<line x1="1718.1" y1="1476.6" x2="1718.1" y2="1592.7" stroke="#c00c18" stroke-width="2.6"/>
<line x1="1700.6" y1="1534.7" x2="1735.6" y2="1534.7" stroke="#f00000" stroke-width="6.8"/>
<line x1="1787.5" y1="1599.9" x2="1822.5" y2="1599.9" stroke="#000" stroke-width="7"/>
<line x1="1834.4" y1="1457.9" x2="1834.4" y2="1563.5" stroke="#c00c18" stroke-width="2.6"/>
<line x1="1816.9" y1="1510.7" x2="1851.9" y2="1510.7" stroke="#f00000" stroke-width="6.8"/>
<line x1="1903.7" y1="1599.9" x2="1938.7" y2="1599.9" stroke="#000" stroke-width="7"/>
<line x1="1950.6" y1="1606.0" x2="1950.6" y2="1751.6" stroke="#c00c18" stroke-width="2.6"/>
<line x1="1933.1" y1="1679.2" x2="1968.1" y2="1679.2" stroke="#f00000" stroke-width="6.8"/>
<line x1="2020.0" y1="1599.9" x2="2055.0" y2="1599.9" stroke="#000" stroke-width="7"/>
<line x1="2066.9" y1="1527.1" x2="2066.9" y2="1661.9" stroke="#c00c18" stroke-width="2.6"/>
<line x1="2049.4" y1="1594.9" x2="2084.4" y2="1594.9" stroke="#f00000" stroke-width="6.8"/>
<circle cx="1220.5" cy="1930.1" r="14.8" fill="#fdb863" fill-opacity="0.6" stroke="#fdb863" stroke-opacity="0.95" stroke-width="3.5"/>
<circle cx="1255.1" cy="1930.1" r="14.8" fill="#fc5b37" fill-opacity="0.6" stroke="#fc5b37" stroke-opacity="0.95" stroke-width="3.5"/>
<circle cx="1220.5" cy="1964.2" r="14.8" fill="#fed766" fill-opacity="0.6" stroke="#fed766" stroke-opacity="0.95" stroke-width="3.5"/>
<circle cx="1255.1" cy="1964.2" r="14.8" fill="#fd8d3c" fill-opacity="0.6" stroke="#fd8d3c" stroke-opacity="0.95" stroke-width="3.5"/>
<circle cx="1220.5" cy="1998.2" r="14.8" fill="#6cc86c" fill-opacity="0.6" stroke="#6cc86c" stroke-opacity="0.95" stroke-width="3.5"/>
<circle cx="1255.1" cy="1998.2" r="14.8" fill="#138013" fill-opacity="0.6" stroke="#138013" stroke-opacity="0.95" stroke-width="3.5"/>
<circle cx="1336.8" cy="1930.1" r="14.8" fill="#fdb863" fill-opacity="0.6" stroke="#fdb863" stroke-opacity="0.95" stroke-width="3.5"/>
<circle cx="1371.4" cy="1930.1" r="14.8" fill="none" stroke="#fc5b37" stroke-opacity="0.62" stroke-width="3.5"/>
<circle cx="1336.8" cy="1964.2" r="14.8" fill="#fed766" fill-opacity="0.6" stroke="#fed766" stroke-opacity="0.95" stroke-width="3.5"/>
<circle cx="1371.4" cy="1964.2" r="14.8" fill="none" stroke="#fd8d3c" stroke-opacity="0.62" stroke-width="3.5"/>
<circle cx="1336.8" cy="1998.2" r="14.8" fill="#6cc86c" fill-opacity="0.6" stroke="#6cc86c" stroke-opacity="0.95" stroke-width="3.5"/>
<circle cx="1371.4" cy="1998.2" r="14.8" fill="none" stroke="#138013" stroke-opacity="0.62" stroke-width="3.5"/>
<circle cx="1453.0" cy="1930.1" r="14.8" fill="none" stroke="#fdb863" stroke-opacity="0.62" stroke-width="3.5"/>
<circle cx="1487.6" cy="1930.1" r="14.8" fill="none" stroke="#fc5b37" stroke-opacity="0.62" stroke-width="3.5"/>
<circle cx="1453.0" cy="1964.2" r="14.8" fill="none" stroke="#fed766" stroke-opacity="0.62" stroke-width="3.5"/>
<circle cx="1487.6" cy="1964.2" r="14.8" fill="none" stroke="#fd8d3c" stroke-opacity="0.62" stroke-width="3.5"/>
<circle cx="1453.0" cy="1998.2" r="14.8" fill="#6cc86c" fill-opacity="0.6" stroke="#6cc86c" stroke-opacity="0.95" stroke-width="3.5"/>
<circle cx="1487.6" cy="1998.2" r="14.8" fill="#138013" fill-opacity="0.6" stroke="#138013" stroke-opacity="0.95" stroke-width="3.5"/>
<circle cx="1569.3" cy="1930.1" r="14.8" fill="none" stroke="#fdb863" stroke-opacity="0.62" stroke-width="3.5"/>
<circle cx="1603.9" cy="1930.1" r="14.8" fill="#fc5b37" fill-opacity="0.6" stroke="#fc5b37" stroke-opacity="0.95" stroke-width="3.5"/>
<circle cx="1569.3" cy="1964.2" r="14.8" fill="none" stroke="#fed766" stroke-opacity="0.62" stroke-width="3.5"/>
<circle cx="1603.9" cy="1964.2" r="14.8" fill="#fd8d3c" fill-opacity="0.6" stroke="#fd8d3c" stroke-opacity="0.95" stroke-width="3.5"/>
<circle cx="1569.3" cy="1998.2" r="14.8" fill="#6cc86c" fill-opacity="0.6" stroke="#6cc86c" stroke-opacity="0.95" stroke-width="3.5"/>
<circle cx="1603.9" cy="1998.2" r="14.8" fill="none" stroke="#138013" stroke-opacity="0.62" stroke-width="3.5"/>
<circle cx="1685.6" cy="1930.1" r="14.8" fill="none" stroke="#fdb863" stroke-opacity="0.62" stroke-width="3.5"/>
<circle cx="1720.2" cy="1930.1" r="14.8" fill="none" stroke="#fc5b37" stroke-opacity="0.62" stroke-width="3.5"/>
<circle cx="1685.6" cy="1964.2" r="14.8" fill="#fed766" fill-opacity="0.6" stroke="#fed766" stroke-opacity="0.95" stroke-width="3.5"/>
<circle cx="1720.2" cy="1964.2" r="14.8" fill="#fd8d3c" fill-opacity="0.6" stroke="#fd8d3c" stroke-opacity="0.95" stroke-width="3.5"/>
<circle cx="1685.6" cy="1998.2" r="14.8" fill="none" stroke="#6cc86c" stroke-opacity="0.62" stroke-width="3.5"/>
<circle cx="1720.2" cy="1998.2" r="14.8" fill="none" stroke="#138013" stroke-opacity="0.62" stroke-width="3.5"/>
<circle cx="1801.9" cy="1930.1" r="14.8" fill="#fdb863" fill-opacity="0.6" stroke="#fdb863" stroke-opacity="0.95" stroke-width="3.5"/>
<circle cx="1836.5" cy="1930.1" r="14.8" fill="#fc5b37" fill-opacity="0.6" stroke="#fc5b37" stroke-opacity="0.95" stroke-width="3.5"/>
<circle cx="1801.9" cy="1964.2" r="14.8" fill="none" stroke="#fed766" stroke-opacity="0.62" stroke-width="3.5"/>
<circle cx="1836.5" cy="1964.2" r="14.8" fill="none" stroke="#fd8d3c" stroke-opacity="0.62" stroke-width="3.5"/>
<circle cx="1801.9" cy="1998.2" r="14.8" fill="none" stroke="#6cc86c" stroke-opacity="0.62" stroke-width="3.5"/>
<circle cx="1836.5" cy="1998.2" r="14.8" fill="none" stroke="#138013" stroke-opacity="0.62" stroke-width="3.5"/>
<circle cx="1918.1" cy="1930.1" r="14.8" fill="#fdb863" fill-opacity="0.6" stroke="#fdb863" stroke-opacity="0.95" stroke-width="3.5"/>
<circle cx="1952.7" cy="1930.1" r="14.8" fill="none" stroke="#fc5b37" stroke-opacity="0.62" stroke-width="3.5"/>
<circle cx="1918.1" cy="1964.2" r="14.8" fill="none" stroke="#fed766" stroke-opacity="0.62" stroke-width="3.5"/>
<circle cx="1952.7" cy="1964.2" r="14.8" fill="#fd8d3c" fill-opacity="0.6" stroke="#fd8d3c" stroke-opacity="0.95" stroke-width="3.5"/>
<circle cx="1918.1" cy="1998.2" r="14.8" fill="#6cc86c" fill-opacity="0.6" stroke="#6cc86c" stroke-opacity="0.95" stroke-width="3.5"/>
<circle cx="1952.7" cy="1998.2" r="14.8" fill="none" stroke="#138013" stroke-opacity="0.62" stroke-width="3.5"/>
<circle cx="2034.4" cy="1930.1" r="14.8" fill="none" stroke="#fdb863" stroke-opacity="0.62" stroke-width="3.5"/>
<circle cx="2069.0" cy="1930.1" r="14.8" fill="#fc5b37" fill-opacity="0.6" stroke="#fc5b37" stroke-opacity="0.95" stroke-width="3.5"/>
<circle cx="2034.4" cy="1964.2" r="14.8" fill="#fed766" fill-opacity="0.6" stroke="#fed766" stroke-opacity="0.95" stroke-width="3.5"/>
<circle cx="2069.0" cy="1964.2" r="14.8" fill="none" stroke="#fd8d3c" stroke-opacity="0.62" stroke-width="3.5"/>
<circle cx="2034.4" cy="1998.2" r="14.8" fill="#6cc86c" fill-opacity="0.6" stroke="#6cc86c" stroke-opacity="0.95" stroke-width="3.5"/>
<circle cx="2069.0" cy="1998.2" r="14.8" fill="none" stroke="#138013" stroke-opacity="0.62" stroke-width="3.5"/>
<rect x="1504.7" y="1763.5" width="274.7" height="107.7" rx="6" fill="#fff" fill-opacity="0.8" stroke="#d0d0d0" stroke-width="1.8"/>
<line x1="1514.7" y1="1790" x2="1588.2" y2="1790" stroke="#000" stroke-width="7"/>
<line x1="1514.7" y1="1840" x2="1588.2" y2="1840" stroke="#ee0000" stroke-width="7"/>
<text x="1610.3" y="1803.5" font-family="'DejaVu Sans', 'Liberation Sans', sans-serif" font-size="34.3" fill="#000" text-anchor="start" font-weight="normal" >Random</text>
<text x="1610.3" y="1853.0" font-family="'DejaVu Sans', 'Liberation Sans', sans-serif" font-size="34.3" fill="#000" text-anchor="start" font-weight="normal" >Solutions</text>
<rect x="1179.4" y="1419.4" width="931.2" height="601.8" fill="none" stroke="#000" stroke-width="2.3"/>
<line x1="1170.4" y1="2021.2" x2="1179.4" y2="2021.2" stroke="#000" stroke-width="2.3"/>
<text x="1164.0" y="2035.2" font-family="'DejaVu Sans', 'Liberation Sans', sans-serif" font-size="34.3" fill="#000" text-anchor="end" font-weight="normal" >0</text>
<line x1="1170.4" y1="1900.8" x2="1179.4" y2="1900.8" stroke="#000" stroke-width="2.3"/>
<text x="1164.0" y="1914.8" font-family="'DejaVu Sans', 'Liberation Sans', sans-serif" font-size="34.3" fill="#000" text-anchor="end" font-weight="normal" >20</text>
<line x1="1170.4" y1="1780.5" x2="1179.4" y2="1780.5" stroke="#000" stroke-width="2.3"/>
<text x="1164.0" y="1794.5" font-family="'DejaVu Sans', 'Liberation Sans', sans-serif" font-size="34.3" fill="#000" text-anchor="end" font-weight="normal" >40</text>
<line x1="1170.4" y1="1660.1" x2="1179.4" y2="1660.1" stroke="#000" stroke-width="2.3"/>
<text x="1164.0" y="1674.1" font-family="'DejaVu Sans', 'Liberation Sans', sans-serif" font-size="34.3" fill="#000" text-anchor="end" font-weight="normal" >60</text>
<line x1="1170.4" y1="1539.8" x2="1179.4" y2="1539.8" stroke="#000" stroke-width="2.3"/>
<text x="1164.0" y="1553.8" font-family="'DejaVu Sans', 'Liberation Sans', sans-serif" font-size="34.3" fill="#000" text-anchor="end" font-weight="normal" >80</text>
<line x1="1170.4" y1="1419.4" x2="1179.4" y2="1419.4" stroke="#000" stroke-width="2.3"/>
<text x="1164.0" y="1433.4" font-family="'DejaVu Sans', 'Liberation Sans', sans-serif" font-size="34.3" fill="#000" text-anchor="end" font-weight="normal" >100</text>
<line x1="1238.3" y1="2021.2" x2="1238.3" y2="2030.2" stroke="#000" stroke-width="2.3"/>
<text x="1245.6" y="2070.2" font-family="'DejaVu Sans', 'Liberation Sans', sans-serif" font-size="34.3" fill="#000" text-anchor="middle" font-weight="normal" transform="rotate(-60 1245.6 2070.2)">All</text>
<line x1="1354.6" y1="2021.2" x2="1354.6" y2="2030.2" stroke="#000" stroke-width="2.3"/>
<text x="1361.9" y="2083.8" font-family="'DejaVu Sans', 'Liberation Sans', sans-serif" font-size="34.3" fill="#000" text-anchor="middle" font-weight="normal" transform="rotate(-60 1361.9 2083.8)">Side</text>
<line x1="1470.8" y1="2021.2" x2="1470.8" y2="2030.2" stroke="#000" stroke-width="2.3"/>
<text x="1478.1" y="2083.8" font-family="'DejaVu Sans', 'Liberation Sans', sans-serif" font-size="34.3" fill="#000" text-anchor="middle" font-weight="normal" transform="rotate(-60 1478.1 2083.8)">Task</text>
<line x1="1587.1" y1="2021.2" x2="1587.1" y2="2030.2" stroke="#000" stroke-width="2.3"/>
<text x="1594.4" y="2117.5" font-family="'DejaVu Sans', 'Liberation Sans', sans-serif" font-size="34.3" fill="#000" text-anchor="middle" font-weight="normal" transform="rotate(-60 1594.4 2117.5)">Diagonal</text>
<line x1="1703.4" y1="2021.2" x2="1703.4" y2="2030.2" stroke="#000" stroke-width="2.3"/>
<text x="1710.7" y="2071.3" font-family="'DejaVu Sans', 'Liberation Sans', sans-serif" font-size="34.3" fill="#000" text-anchor="middle" font-weight="normal" transform="rotate(-60 1710.7 2071.3)">A1</text>
<line x1="1819.7" y1="2021.2" x2="1819.7" y2="2030.2" stroke="#000" stroke-width="2.3"/>
<text x="1826.9" y="2071.3" font-family="'DejaVu Sans', 'Liberation Sans', sans-serif" font-size="34.3" fill="#000" text-anchor="middle" font-weight="normal" transform="rotate(-60 1826.9 2071.3)">A2</text>
<line x1="1935.9" y1="2021.2" x2="1935.9" y2="2030.2" stroke="#000" stroke-width="2.3"/>
<text x="1943.2" y="2112.4" font-family="'DejaVu Sans', 'Liberation Sans', sans-serif" font-size="34.3" fill="#000" text-anchor="middle" font-weight="normal" transform="rotate(-60 1943.2 2112.4)">Mixed_1</text>
<line x1="2052.2" y1="2021.2" x2="2052.2" y2="2030.2" stroke="#000" stroke-width="2.3"/>
<text x="2059.5" y="2112.4" font-family="'DejaVu Sans', 'Liberation Sans', sans-serif" font-size="34.3" fill="#000" text-anchor="middle" font-weight="normal" transform="rotate(-60 2059.5 2112.4)">Mixed_2</text>
<text x="1082.0" y="1722.0" font-family="'DejaVu Sans', 'Liberation Sans', sans-serif" font-size="33.8" fill="#000" text-anchor="middle" font-weight="normal" transform="rotate(-90 1082 1722)">Mode Stability (% of modes)</text>
<text x="1017.2" y="1443.3" font-family="'DejaVu Sans', 'Liberation Sans', sans-serif" font-size="63" font-weight="bold">e</text>
</svg></body></html>
